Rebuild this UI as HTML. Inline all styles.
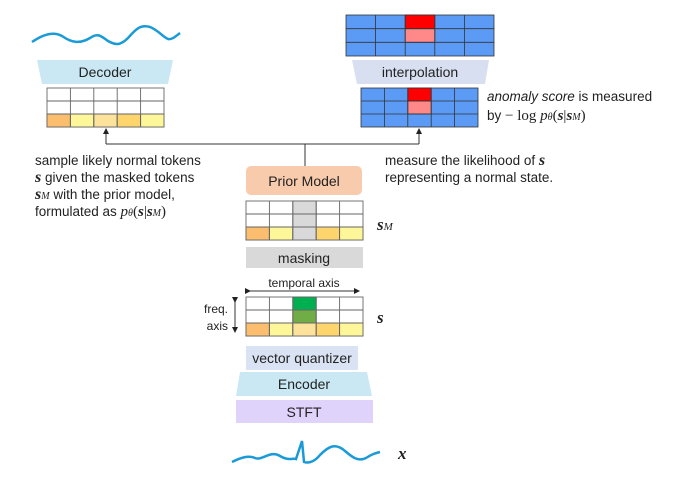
<!DOCTYPE html>
<html><head><meta charset="utf-8"><style>
html,body{margin:0;padding:0;background:#fff}
svg{display:block}
text{font-family:"Liberation Sans",sans-serif;fill:#222}
.m{font-family:"Liberation Serif",serif}
</style></head><body>
<svg width="682" height="480" viewBox="0 0 682 480">
<defs><marker id="ar" markerWidth="6" markerHeight="6" refX="5" refY="3" orient="auto"><path d="M0,0 L6,3 L0,6 z" fill="#222"/></marker></defs>
<path d="M32,42 C45,33 55,32 62,36 C72,43 80,44 90,38 C97,33 100,35 108,41 C115,45 120,46 128,38 C135,30 140,24 150,27 C158,30 163,37 168,39 C172,40 176,36 180,33" fill="none" stroke="#1a9ad6" stroke-width="2.5"/>
<polygon points="37,60 173,60 168,84 42,84" fill="#c9e8f3"/>
<text x="105" y="77" font-size="14" text-anchor="middle">Decoder</text>
<g stroke="#666" stroke-width="0.9">
<rect x="47" y="88" width="117" height="39" fill="#fff"/>
<rect x="47" y="114" width="23.4" height="13" fill="#fbbd6e"/>
<rect x="70.4" y="114" width="23.4" height="13" fill="#fdf79a"/>
<rect x="93.8" y="114" width="23.4" height="13" fill="#fde29b"/>
<rect x="117.2" y="114" width="23.4" height="13" fill="#fed56c"/>
<rect x="140.6" y="114" width="23.4" height="13" fill="#fdf79a"/>
<path d="M47,101H164M47,114H164M70.4,88V127M93.8,88V127M117.2,88V127M140.6,88V127" fill="none"/>
</g>
<g stroke="#333" stroke-width="0.8">
<rect x="346" y="15" width="148" height="41" fill="#5b9bf5"/>
<rect x="405.2" y="15" width="29.6" height="13.7" fill="#f00"/>
<rect x="405.2" y="28.7" width="29.6" height="13.6" fill="#f88"/>
<path d="M346,28.7H494M346,42.3H494M375.6,15V56M405.2,15V56M434.8,15V56M464.4,15V56" fill="none"/>
</g>
<polygon points="352,60 489,60 485,84 357,84" fill="#d7dff0"/>
<text x="420" y="77" font-size="14" text-anchor="middle">interpolation</text>
<g stroke="#333" stroke-width="0.8">
<rect x="361" y="88" width="117" height="39" fill="#5b9bf5"/>
<rect x="407.8" y="88" width="23.4" height="13" fill="#f00"/>
<rect x="407.8" y="101" width="23.4" height="13" fill="#f88"/>
<path d="M361,101H478M361,114H478M384.4,88V127M407.8,88V127M431.2,88V127M454.6,88V127" fill="none"/>
</g>
<text x="487" y="101" font-size="13.5"><tspan font-style="italic">anomaly score</tspan> is measured</text>
<text x="487" y="120" font-size="13.5">by <tspan class="m" font-size="15">− log <tspan font-style="italic">p</tspan><tspan font-size="10" font-style="italic">θ</tspan>(<tspan font-weight="bold" font-style="italic">s</tspan>|<tspan font-weight="bold" font-style="italic">s</tspan><tspan font-size="10" font-style="italic">M</tspan>)</tspan></text>
<path d="M305,166V144M106,144H419" stroke="#333" stroke-width="1" fill="none"/>
<path d="M106,144V129" stroke="#333" stroke-width="1" marker-end="url(#ar)"/>
<path d="M419,144V129" stroke="#333" stroke-width="1" marker-end="url(#ar)"/>
<g font-size="13.5">
<text x="35" y="165">sample likely normal tokens</text>
<text x="35" y="182"><tspan class="m" font-weight="bold" font-style="italic" font-size="16">s</tspan> given the masked tokens</text>
<text x="35" y="199"><tspan class="m" font-weight="bold" font-style="italic" font-size="16">s</tspan><tspan class="m" font-style="italic" font-size="10">M</tspan> with the prior model,</text>
<text x="35" y="216">formulated as <tspan class="m" font-size="15"><tspan font-style="italic">p</tspan><tspan font-size="10" font-style="italic">θ</tspan>(<tspan font-weight="bold" font-style="italic">s</tspan>|<tspan font-weight="bold" font-style="italic">s</tspan><tspan font-size="10" font-style="italic">M</tspan>)</tspan></text>
<text x="385" y="165">measure the likelihood of <tspan class="m" font-weight="bold" font-style="italic" font-size="16">s</tspan></text>
<text x="385" y="182">representing a normal state.</text>
</g>
<rect x="246" y="166" width="116" height="29" rx="5" fill="#f8cbad"/>
<text x="304" y="186" font-size="14" text-anchor="middle">Prior Model</text>
<g stroke="#666" stroke-width="0.9">
<rect x="246" y="201" width="117" height="39" fill="#fff"/>
<rect x="246" y="227" width="23.4" height="13" fill="#fbbd6e"/>
<rect x="269.4" y="227" width="23.4" height="13" fill="#fdf79a"/>
<rect x="292.8" y="201" width="23.4" height="39" fill="#d9d9d9"/>
<rect x="316.2" y="227" width="23.4" height="13" fill="#fed56c"/>
<rect x="339.6" y="227" width="23.4" height="13" fill="#fdf79a"/>
<path d="M246,214H363M246,227H363M269.4,201V240M292.8,201V240M316.2,201V240M339.6,201V240" fill="none"/>
</g>
<text x="377" y="230" class="m" font-size="17" font-weight="bold" font-style="italic">s<tspan font-size="11" font-weight="normal">M</tspan></text>
<rect x="246" y="247" width="117" height="21" fill="#d9d9d9"/>
<text x="304" y="263" font-size="14" text-anchor="middle">masking</text>
<text x="304" y="287" font-size="12" text-anchor="middle">temporal axis</text>
<path d="M250,291H359" stroke="#333" stroke-width="1" marker-end="url(#ar)" marker-start="url(#ar)"/>
<path d="M235,302V332" stroke="#333" stroke-width="1" marker-end="url(#ar)" marker-start="url(#ar)"/>
<text x="228" y="313" font-size="12" text-anchor="end">freq.</text>
<text x="228" y="330" font-size="12" text-anchor="end">axis</text>
<g stroke="#666" stroke-width="0.9">
<rect x="246" y="297" width="117" height="39" fill="#fff"/>
<rect x="246" y="323" width="23.4" height="13" fill="#fbbd6e"/>
<rect x="269.4" y="323" width="23.4" height="13" fill="#fdf79a"/>
<rect x="292.8" y="297" width="23.4" height="13" fill="#00b050"/>
<rect x="292.8" y="310" width="23.4" height="13" fill="#70ad47"/>
<rect x="292.8" y="323" width="23.4" height="13" fill="#fde29b"/>
<rect x="316.2" y="323" width="23.4" height="13" fill="#fed56c"/>
<rect x="339.6" y="323" width="23.4" height="13" fill="#fdf79a"/>
<path d="M246,310H363M246,323H363M269.4,297V336M292.8,297V336M316.2,297V336M339.6,297V336" fill="none"/>
</g>
<text x="377" y="323" class="m" font-size="17" font-weight="bold" font-style="italic">s</text>
<rect x="246" y="346" width="112" height="24" fill="#dae3f3"/>
<text x="302" y="363" font-size="14" text-anchor="middle">vector quantizer</text>
<polygon points="240,372 367,372 372,396 236,396" fill="#c9e8f3"/>
<text x="304" y="389" font-size="14" text-anchor="middle">Encoder</text>
<rect x="236" y="400" width="137" height="23" fill="#e0d3fb"/>
<text x="304" y="417" font-size="14" text-anchor="middle">STFT</text>
<path d="M232,462 C240,458 248,455 255,458 C262,461 270,450 280,456 C288,461 292,458 296,459 L302,441 L304,462 C310,464 316,460 320,455 C328,447 335,442 345,451 C352,457 358,462 366,458 C372,454 376,453 380,452" fill="none" stroke="#1a9ad6" stroke-width="2.5"/>
<text x="398" y="459" class="m" font-size="17" font-weight="bold" font-style="italic">x</text>
</svg>
</body></html>
